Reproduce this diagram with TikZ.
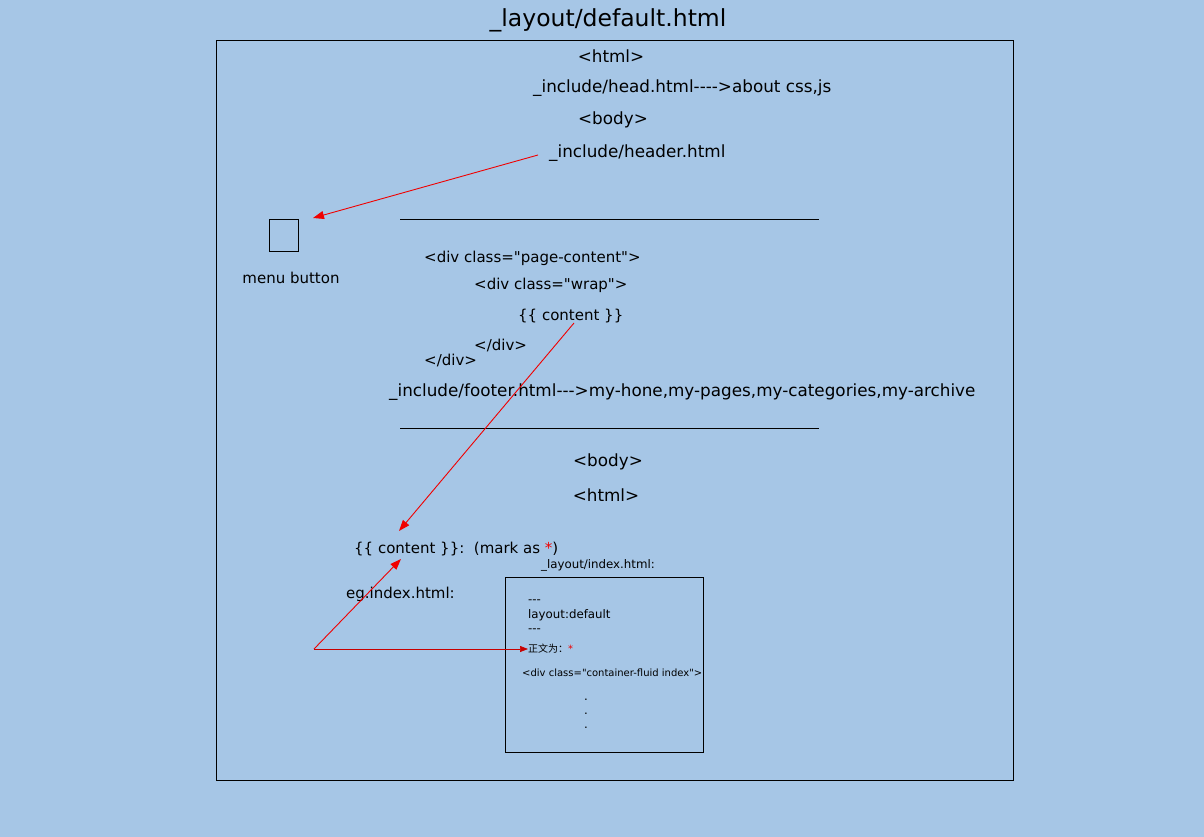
\documentclass[tikz,border=0pt]{standalone}
\usepackage{fontspec}
\setmainfont{DejaVu Sans}[Ligatures=TeXOff]
\newfontfamily\cjk{Noto Sans CJK SC}
\usetikzlibrary{arrows.meta}
\definecolor{bg}{RGB}{166,198,230}
\definecolor{arr}{RGB}{240,0,0}
\definecolor{darr}{RGB}{200,0,0}
\tikzset{
  txt/.style={inner sep=0pt, anchor=west, font=\fontsize{16.8}{19}\selectfont},
  ctxt/.style={inner sep=0pt, anchor=center, font=\fontsize{16.8}{19}\selectfont},
  mid/.style={inner sep=0pt, anchor=west, font=\fontsize{15}{17}\selectfont},
  small/.style={inner sep=0pt, anchor=west, font=\fontsize{11.8}{13}\selectfont},
  tiny/.style={inner sep=0pt, anchor=west, font=\fontsize{10}{11}\selectfont},
  redarrow/.style={draw=arr, line width=0.9pt, -{Triangle[length=11pt,width=8pt]}},
  thinrule/.style={draw=black, line width=0.7pt},
}
\begin{document}
\begin{tikzpicture}[x=1pt,y=-1pt]
\fill[bg] (0,0) rectangle (1204,837);
\useasboundingbox (0,0) rectangle (1204,837);
\node[inner sep=0pt, font=\fontsize{23.5}{27}\selectfont] (title) at (608,20) {\_layout/default.html};
\draw[thinrule] (216,40) rectangle (1013,780);
\node[ctxt] (html1) at (611,56.5) {<html>};
\node[txt] (head) at (533,88) {\_include/head.html---->about css,js};
\node[ctxt] (body1) at (613,120) {<body>};
\node[txt] (header) at (549,153) {\_include/header.html};
\node[draw, line width=0.7pt, minimum width=29pt, minimum height=32pt, inner sep=0pt] (menu) at (283.5,235) {};
\node[inner sep=0pt, font=\fontsize{15}{17}\selectfont] (menulbl) at (291,277.5) {menu button};
\coordinate (h1) at (538,155);
\coordinate (h2) at (313,218);
\draw[redarrow] (h1) -- (h2);
\coordinate (r1a) at (400,219); \coordinate (r1b) at (819,219);
\draw[thinrule] (r1a) -- (r1b);
\node[mid] (pc) at (424,258) {<div class="page-content">};
\node[mid] (wrap) at (474,285) {<div class="wrap">};
\node[mid] (cont) at (518,316) {\{\{ content \}\}};
\node[mid] (div1) at (474,345) {</div>};
\node[mid] (div2) at (424,360) {</div>};
\node[txt] (footer) at (389,392) {\_include/footer.html--->my-hone,my-pages,my-categories,my-archive};
\coordinate (r2a) at (400,428); \coordinate (r2b) at (819,428);
\draw[thinrule] (r2a) -- (r2b);
\node[ctxt] (body2) at (608,462) {<body>};
\node[ctxt] (html2) at (606,495) {<html>};
\node[mid] (mark) at (354,549) {\{\{ content \}\}:\ \ (mark as \textcolor{arr}{*})};
\node[small] (idxlbl) at (541,565) {\_layout/index.html:};
\node[mid] (eg) at (346,594) {eg.index.html:};
\node[draw, line width=0.7pt, minimum width=198pt, minimum height=175pt, inner sep=0pt] (idxbox) at (604,664.5) {};
\node[small] (d1) at (528,601.5) {---};
\node[small] (lay) at (528,615) {layout:default};
\node[small] (d2) at (528,630.5) {---};
\node[tiny] (zw) at (528,649) {{\cjk 正文为：}\textcolor{arr}{*}};
\node[tiny] (cf) at (522,673) {<div class="container-fluid index">};
\node[small] (dot1) at (584,700) {.};
\node[small] (dot2) at (584,714) {.};
\node[small] (dot3) at (584,728) {.};
\coordinate (c1) at (574,323);
\coordinate (c2) at (399,531);
\draw[redarrow] (c1) -- (c2);
\coordinate (e0) at (314,649);
\coordinate (e1) at (401,559);
\draw[redarrow] (e0) -- (e1);
\draw[draw=darr, line width=0.7pt, -{Triangle[length=8pt,width=6pt]}] (e0) -- (zw.west);
\end{tikzpicture}
\end{document}
